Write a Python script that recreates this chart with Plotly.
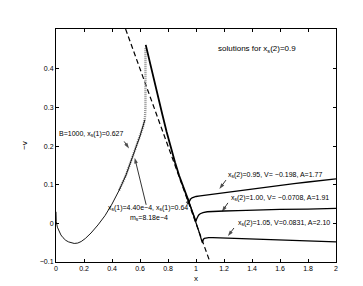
import plotly.graph_objects as go

# ---- data ----
dash_x = [0.497, 1.1]
dash_y = [0.503, -0.1]

low_x = [0.0, 0.002, 0.01, 0.02, 0.035, 0.05, 0.07, 0.09, 0.11, 0.13, 0.155, 0.18, 0.21, 0.25, 0.30,
         0.35, 0.40, 0.45, 0.50, 0.55, 0.60, 0.635]
low_y = [0.03, 0.004, -0.01, -0.02, -0.03, -0.037, -0.044, -0.048, -0.051, -0.052, -0.051, -0.047,
         -0.039, -0.025, -0.004, 0.02, 0.05, 0.085, 0.125, 0.176, 0.226, 0.268]

b1000_x = [0.45, 0.50, 0.55, 0.60, 0.620, 0.630, 0.636, 0.639, 0.639]
b1000_y = [0.085, 0.125, 0.176, 0.226, 0.248, 0.262, 0.276, 0.30, 0.456]

desc_x = [0.641, 0.67, 0.70, 0.73, 0.76, 0.79, 0.82, 0.85, 0.88, 0.915, 0.95]
desc_y = [0.462, 0.416, 0.37, 0.325, 0.281, 0.237, 0.196, 0.158, 0.123, 0.088, 0.055]

br1_x = [0.95, 0.955, 0.962, 0.972, 0.985, 1.0, 1.03, 1.07, 1.12, 1.2, 1.3, 1.4, 1.5, 1.6, 1.7, 1.8, 1.9, 2.0]
br1_y = [0.055, 0.059, 0.063, 0.066, 0.068, 0.0695, 0.071, 0.073, 0.075, 0.078, 0.083, 0.088, 0.093,
         0.098, 0.103, 0.107, 0.111, 0.115]

br2_x = [0.95, 0.975, 1.0, 1.004, 1.01, 1.018, 1.03, 1.05, 1.08, 1.12, 1.2, 1.3, 1.45, 1.6, 1.8, 2.0]
br2_y = [0.055, 0.03, 0.005, 0.011, 0.017, 0.021, 0.025, 0.028, 0.030, 0.031, 0.032, 0.033, 0.035,
         0.036, 0.037, 0.039]

br3_x = [0.95, 0.975, 1.0, 1.02, 1.045, 1.048, 1.053, 1.06, 1.07, 1.09, 1.12, 1.2, 1.3, 1.4, 1.55, 1.7,
         1.85, 2.0]
br3_y = [0.055, 0.03, 0.005, -0.02, -0.05, -0.045, -0.041, -0.039, -0.038, -0.037, -0.037, -0.038,
         -0.040, -0.042, -0.044, -0.046, -0.047, -0.048]

# arrow tails and heads (data coordinates)
arrow_tail_x = [0.487, 0.644, 0.936, 1.214, 1.228, 1.271]
arrow_tail_y = [0.212, 0.048, 0.048, 0.112, 0.053, -0.012]
arrow_head_x = [0.522, 0.562, 0.952, 1.167, 1.185, 1.228]
arrow_head_y = [0.194, 0.170, 0.066, 0.089, 0.030, -0.033]

x_ticks = [0, 0.2, 0.4, 0.6, 0.8, 1, 1.2, 1.4, 1.6, 1.8, 2]
x_tick_labels = ["0", "0.2", "0.4", "0.6", "0.8", "1", "1.2", "1.4", "1.6", "1.8", "2"]
y_ticks = [-0.1, 0, 0.1, 0.2, 0.3, 0.4]
y_tick_labels = ["\u22120.1", "0", "0.1", "0.2", "0.3", "0.4"]

FONT = "Liberation Sans, Arial, Helvetica, sans-serif"

fig = go.Figure()
fig.add_trace(go.Scatter(x=dash_x, y=dash_y, mode="lines",
                         line=dict(color="black", width=1.2, dash="5px,3px")))
fig.add_trace(go.Scatter(x=b1000_x, y=b1000_y, mode="lines",
                         line=dict(color="#8c8c8c", width=2.4, dash="1px,1px")))
fig.add_trace(go.Scatter(x=low_x, y=low_y, mode="lines",
                         line=dict(color="black", width=0.9)))
fig.add_trace(go.Scatter(x=desc_x, y=desc_y, mode="lines",
                         line=dict(color="black", width=1.8)))
for bx, by in [(br1_x, br1_y), (br2_x, br2_y), (br3_x, br3_y)]:
    fig.add_trace(go.Scatter(x=bx, y=by, mode="lines",
                             line=dict(color="black", width=1.3)))

for tx, ty, hx, hy in zip(arrow_tail_x, arrow_tail_y, arrow_head_x, arrow_head_y):
    fig.add_trace(go.Scatter(x=[tx, hx], y=[ty, hy], mode="lines+markers",
                             line=dict(color="black", width=0.8),
                             marker=dict(symbol=["circle", "arrow"], size=[0, 6],
                                         angleref="previous", color="black",
                                         line=dict(width=0))))

tf = dict(family=FONT, size=7, color="black")
texts = [
    (0.006, 0.231, "B=1000, x<sub>s</sub>(1)=0.627"),
    (0.36, 0.040, "x<sub>s</sub>(1)=4.40e\u22124, x<sub>s</sub>(1)=0.64"),
    (0.515, 0.014, "m<sub>s</sub>=8.18e\u22124"),
    (1.214, 0.126, "x<sub>s</sub>(2)=0.95, V= \u22120.198, A=1.77"),
    (1.235, 0.066, "x<sub>s</sub>(2)=1.00, V= \u22120.0708, A=1.91"),
    (1.285, 0.001, "x<sub>s</sub>(2)=1.05, V=0.0831, A=2.10"),
]
for tx, ty, t in texts:
    fig.add_annotation(x=tx, y=ty, text=t, showarrow=False, xanchor="left",
                       yanchor="middle", font=tf)
fig.add_annotation(x=1.143, y=0.45, text="solutions for x<sub>s</sub>(2)=0.9",
                   showarrow=False, xanchor="left", yanchor="middle",
                   font=dict(family=FONT, size=8, color="black"))

axis_common = dict(showline=True, linecolor="black", linewidth=1, mirror="ticks",
                   ticks="inside", ticklen=3, tickcolor="black", showgrid=False,
                   zeroline=False, tickfont=dict(family=FONT, size=7, color="black"))
fig.update_xaxes(range=[0, 2], tickvals=x_ticks, ticktext=x_tick_labels,
                 title=dict(text="x", font=dict(family=FONT, size=8, color="black"), standoff=3),
                 **axis_common)
fig.update_yaxes(range=[-0.1, 0.503], tickvals=y_ticks, ticktext=y_tick_labels,
                 title=dict(text="\u2212v", font=dict(family=FONT, size=8, color="black"), standoff=10),
                 **axis_common)
fig.update_layout(width=363, height=286, showlegend=False,
                  margin=dict(l=48, r=35, t=21, b=32, autoexpand=False),
                  plot_bgcolor="white", paper_bgcolor="white")
fig.write_html("out.html")
